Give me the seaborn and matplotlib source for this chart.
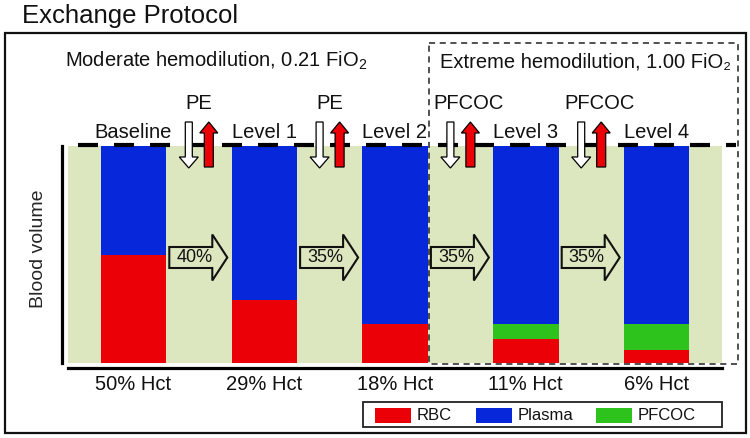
import numpy as np
import pandas as pd
import matplotlib
matplotlib.use("Agg")
import matplotlib.pyplot as plt
import matplotlib.transforms as mtransforms
from matplotlib.patches import Polygon, Rectangle
import seaborn as sns

# ---------------- data ----------------
hct_labels = ["50% Hct", "29% Hct", "18% Hct", "11% Hct", "6% Hct"]
stage_labels = ["Baseline", "Level 1", "Level 2", "Level 3", "Level 4"]
rbc = [50, 29, 18, 11, 6]
pfcoc = [0, 0, 0, 7, 12]
plasma = [50, 71, 82, 82, 82]
exchange_pct = ["40%", "35%", "35%", "35%"]
exchange_fluid = ["PE", "PE", "PFCOC", "PFCOC"]
legend_labels = ["RBC", "Plasma", "PFCOC"]

RED = "#EC0008"
BLUE = "#0628DA"
GREEN = "#2EC21C"
BG = "#DDE7BF"

sns.set_theme(style="white")
plt.rcParams["font.family"] = ["Liberation Sans", "DejaVu Sans"]
plt.rcParams["mathtext.fontset"] = "custom"
plt.rcParams["mathtext.rm"] = "Liberation Sans"
plt.rcParams["mathtext.it"] = "Liberation Sans:italic"
plt.rcParams["text.color"] = "#111111"

W, H = 750, 438
fig = plt.figure(figsize=(W / 100, H / 100), dpi=100)
fig.patch.set_facecolor("white")
AX_L, AX_R, AX_T, AX_B = 68, 722, 146, 363
ax = fig.add_axes([AX_L / W, (H - AX_B) / H, (AX_R - AX_L) / W, (AX_B - AX_T) / H])
ax.set_facecolor(BG)

rbc_a = np.array(rbc)
pf_a = np.array(pfcoc)
pl_a = np.array(plasma)
df = pd.DataFrame({
    "hct": hct_labels,
    "total": rbc_a + pf_a + pl_a,
    "rbc_pf": rbc_a + pf_a,
    "rbc": rbc_a,
})
for col, color in [("total", BLUE), ("rbc_pf", GREEN), ("rbc", RED)]:
    sns.barplot(data=df, x="hct", y=col, color=color, width=0.5,
                saturation=1, errorbar=None, linewidth=0, ax=ax)

ax.set_xlim(-0.5, 4.5)
ax.set_ylim(0, 100)
ax.set_xlabel("")
ax.set_ylabel("Blood volume", fontsize=14)
ax.yaxis.set_label_coords((47 - AX_L) / (AX_R - AX_L), (AX_B - 249) / (AX_B - AX_T))
ax.set_yticks([])
ax.tick_params(axis="x", length=0, pad=5, labelsize=14.5, colors="#111111")
for s in ["top", "right"]:
    ax.spines[s].set_visible(False)
ax.spines["left"].set_position(("outward", 4.3))
ax.spines["bottom"].set_position(("outward", 3.6))
for s in ["left", "bottom"]:
    ax.spines[s].set_linewidth(2.3)
    ax.spines[s].set_color("black")

# top dashed "full volume" line
ax.plot([-0.424, 4.607], [100.4, 100.4], color="black", lw=3,
        dashes=(4.8, 3.84), clip_on=False, dash_capstyle="butt")

# pixel transform (origin top-left)
PX = mtransforms.Affine2D().scale(1 / W, -1 / H).translate(0, 1) + fig.transFigure


def xpx(x):
    return AX_L + (x + 0.5) * (AX_R - AX_L) / 5


# stage labels above bars
for i, lab in enumerate(stage_labels):
    ax.text(i, (AX_B - 138) / (AX_B - AX_T) * 100, lab, ha="center",
            va="baseline", fontsize=14.5)

# exchange arrows
for i in range(4):
    cx = xpx(i + 0.5)
    # white down arrow (removal)
    w = cx - 10
    fig.add_artist(Polygon([(w - 3.5, 122), (w + 3.5, 122), (w + 3.5, 157),
                            (w + 9.5, 157), (w, 168), (w - 9.5, 157),
                            (w - 3.5, 157)], closed=True, transform=PX,
                           facecolor="white", edgecolor="black", lw=0.9))
    # red up arrow (infusion)
    r = cx + 10
    fig.add_artist(Polygon([(r - 4.5, 167), (r + 4.5, 167), (r + 4.5, 133),
                            (r + 9, 133), (r, 122), (r - 9, 133),
                            (r - 4.5, 133)], closed=True, transform=PX,
                           facecolor=RED, edgecolor="black", lw=0.9))
    off = 8 if exchange_fluid[i] == "PFCOC" else 0
    fig.text(cx + off, 109, exchange_fluid[i], transform=PX, ha="center",
             va="baseline", fontsize=14.5)
    # block arrow with exchange percentage
    x0, xh, x1, yc = cx - 29.5, cx + 13.5, cx + 28.5, 257.5
    fig.add_artist(Polygon([(x0, yc - 10.5), (xh, yc - 10.5), (xh, yc - 23),
                            (x1, yc), (xh, yc + 23), (xh, yc + 10.5),
                            (x0, yc + 10.5)], closed=True, transform=PX,
                           facecolor=BG, edgecolor="#111111", lw=1.5,
                           joinstyle="miter"))
    fig.text(cx - 4.5, 258, exchange_pct[i], transform=PX, ha="center",
             va="center", fontsize=13)

# headers
fig.text(22, 23, "Exchange Protocol", transform=PX, fontsize=18.5, va="baseline")
fig.text(65, 67, "Moderate hemodilution, 0.21 FiO$_2$", transform=PX,
         fontsize=14.5, va="baseline")
fig.text(440, 67, "Extreme hemodilution, 1.00 FiO\u2082", transform=PX,
         fontsize=14.5, va="baseline")

# frames
fig.add_artist(Rectangle((5, 33), 741, 400, transform=PX, fill=False,
                         lw=1.6, edgecolor="#111111"))
fig.add_artist(Rectangle((429, 43), 309, 321, transform=PX, fill=False,
                         lw=1.1, edgecolor="#222222", linestyle=(0, (4, 3))))

# legend
fig.add_artist(Rectangle((363, 402), 359, 25, transform=PX, fill=False,
                         lw=1.3, edgecolor="#222222"))
for lab, color, px0 in zip(legend_labels, [RED, BLUE, GREEN], [375, 476, 596]):
    fig.add_artist(Rectangle((px0, 408), 36, 15, transform=PX,
                             facecolor=color, edgecolor="none"))
    fig.text(px0 + 42, 415.5, lab, transform=PX, ha="left", va="center",
             fontsize=12)

fig.savefig("out.png", dpi=100)
